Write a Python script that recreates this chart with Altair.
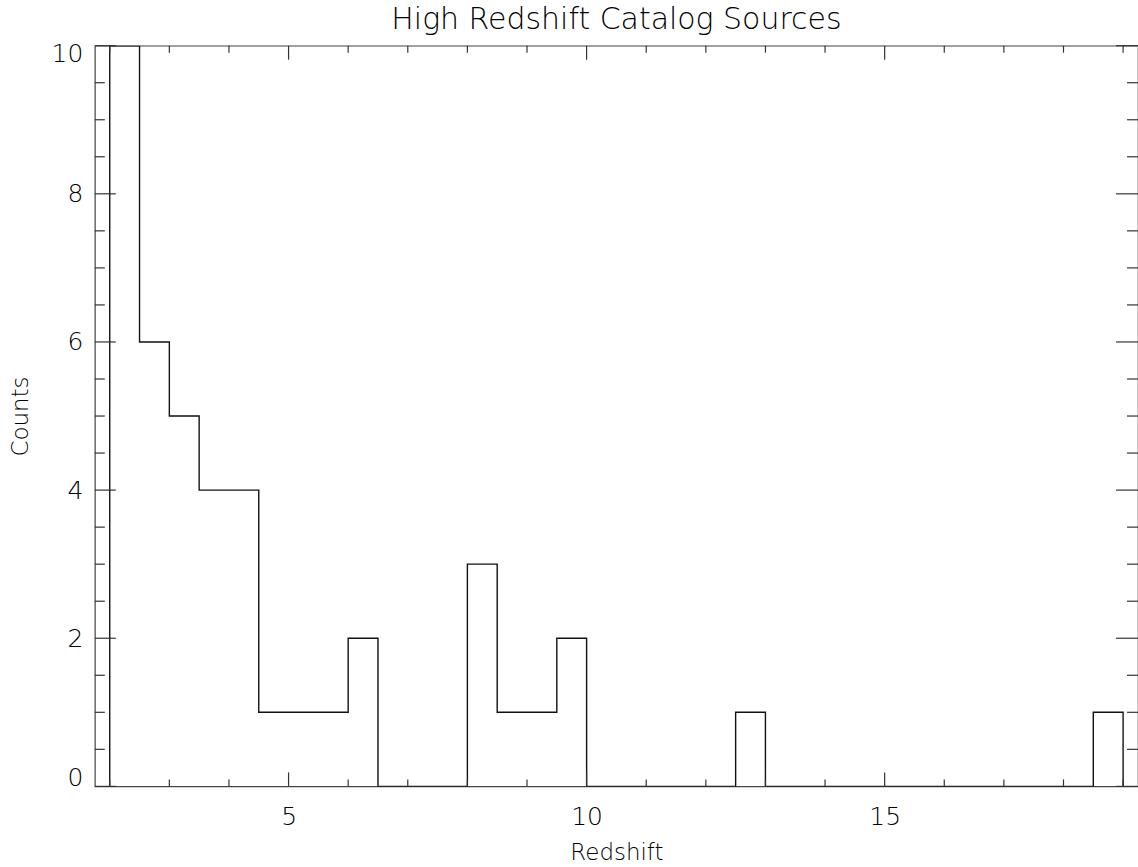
import altair as alt
import pandas as pd

# ---- data ----
bin_left = [2.0, 2.5, 3.0, 3.5, 4.0, 4.5, 5.0, 5.5, 6.0, 6.5, 7.0, 7.5, 8.0, 8.5,
            9.0, 9.5, 10.0, 10.5, 11.0, 11.5, 12.0, 12.5, 13.0, 13.5, 14.0, 14.5,
            15.0, 15.5, 16.0, 16.5, 17.0, 17.5, 18.0, 18.5]
counts = [10, 6, 5, 4, 4, 1, 1, 1, 2, 0, 0, 0, 3, 1, 1, 2, 0, 0, 0, 0, 0, 1,
          0, 0, 0, 0, 0, 0, 0, 0, 0, 0, 0, 1]
bin_width = 0.5

x_major = [5, 10, 15]
x_minor = [2, 3, 4, 6, 7, 8, 9, 11, 12, 13, 14, 16, 17, 18, 19]
y_major = [0, 2, 4, 6, 8, 10]
y_minor = [0.5, 1, 1.5, 2.5, 3, 3.5, 4.5, 5, 5.5, 6.5, 7, 7.5, 8.5, 9, 9.5]

X_DOMAIN = [1.75, 19.25]
Y_DOMAIN = [0, 10]
W, H = 1045, 742
FONT = "DejaVu Sans"
TXT = "#000000"

# step outline of histogram
pts = [{"x": bin_left[0], "y": 0, "o": 0}]
for i, (e, c) in enumerate(zip(bin_left, counts)):
    pts.append({"x": e, "y": c, "o": i + 1})
last_edge = bin_left[-1] + bin_width
pts.append({"x": last_edge, "y": counts[-1], "o": len(pts)})
pts.append({"x": last_edge, "y": 0, "o": len(pts)})
step_df = pd.DataFrame(pts)

xs = alt.Scale(domain=X_DOMAIN, nice=False, zero=False)
ys = alt.Scale(domain=Y_DOMAIN, nice=False)

hist = alt.Chart(step_df).mark_line(
    interpolate="step-after", color="#111111", strokeWidth=1.4, clip=True
).encode(
    x=alt.X("x:Q", scale=xs,
            axis=alt.Axis(title="Redshift", values=x_major, format="d", ticks=False,
                          domain=False, grid=False, labelPadding=18, labelFontSize=25,
                          labelFont=FONT, labelFontWeight=200, labelColor=TXT,
                          titleFont=FONT, titleFontSize=23, titleFontWeight=200,
                          titleColor=TXT, titlePadding=12)),
    y=alt.Y("y:Q", scale=ys,
            axis=alt.Axis(title="Counts", values=y_major, format="d", ticks=False,
                          domain=False, grid=False, labelFlush=True, labelFlushOffset=4,
                          labelPadding=12, labelFontSize=25, labelFont=FONT,
                          labelFontWeight=200, labelColor=TXT, titleFont=FONT,
                          titleFontSize=23, titleFontWeight=200, titleColor=TXT,
                          titlePadding=19)),
    order="o:Q",
)

def xticks(vals, length, top):
    df = pd.DataFrame({"v": vals})
    if top:
        yy, yy2 = alt.value(0), alt.value(length)
    else:
        yy, yy2 = alt.value(H), alt.value(H - length)
    return alt.Chart(df).mark_rule(color="#333333", strokeWidth=1.2).encode(
        x=alt.X("v:Q", scale=xs), y=yy, y2=yy2)

def yticks(vals, length, right):
    df = pd.DataFrame({"v": vals})
    if right:
        xx, xx2 = alt.value(W), alt.value(W - length - 1)
    else:
        xx, xx2 = alt.value(0), alt.value(length)
    return alt.Chart(df).mark_rule(color="#333333", strokeWidth=1.2).encode(
        y=alt.Y("v:Q", scale=ys), x=xx, x2=xx2)

chart = alt.layer(
    hist,
    xticks(x_major, 14, False), xticks(x_minor, 7, False),
    xticks(x_major, 14, True), xticks(x_minor, 7, True),
    yticks(y_major, 21, False), yticks(y_minor, 10, False),
    yticks(y_major, 21, True), yticks(y_minor, 10, True),
).properties(
    width=W, height=H,
    title=alt.TitleParams("High Redshift Catalog Sources", font=FONT, fontSize=30,
                          fontWeight=200, color=TXT, anchor="middle",
                          baseline="alphabetic", offset=-17),
    autosize=alt.AutoSizeParams(type="none"),
    padding={"left": 95, "top": 45, "right": 0, "bottom": 80},
    background="white",
).configure_view(stroke="#444444", strokeWidth=1.2)

chart.save("out.html", embed_options={"renderer": "svg", "actions": False})
